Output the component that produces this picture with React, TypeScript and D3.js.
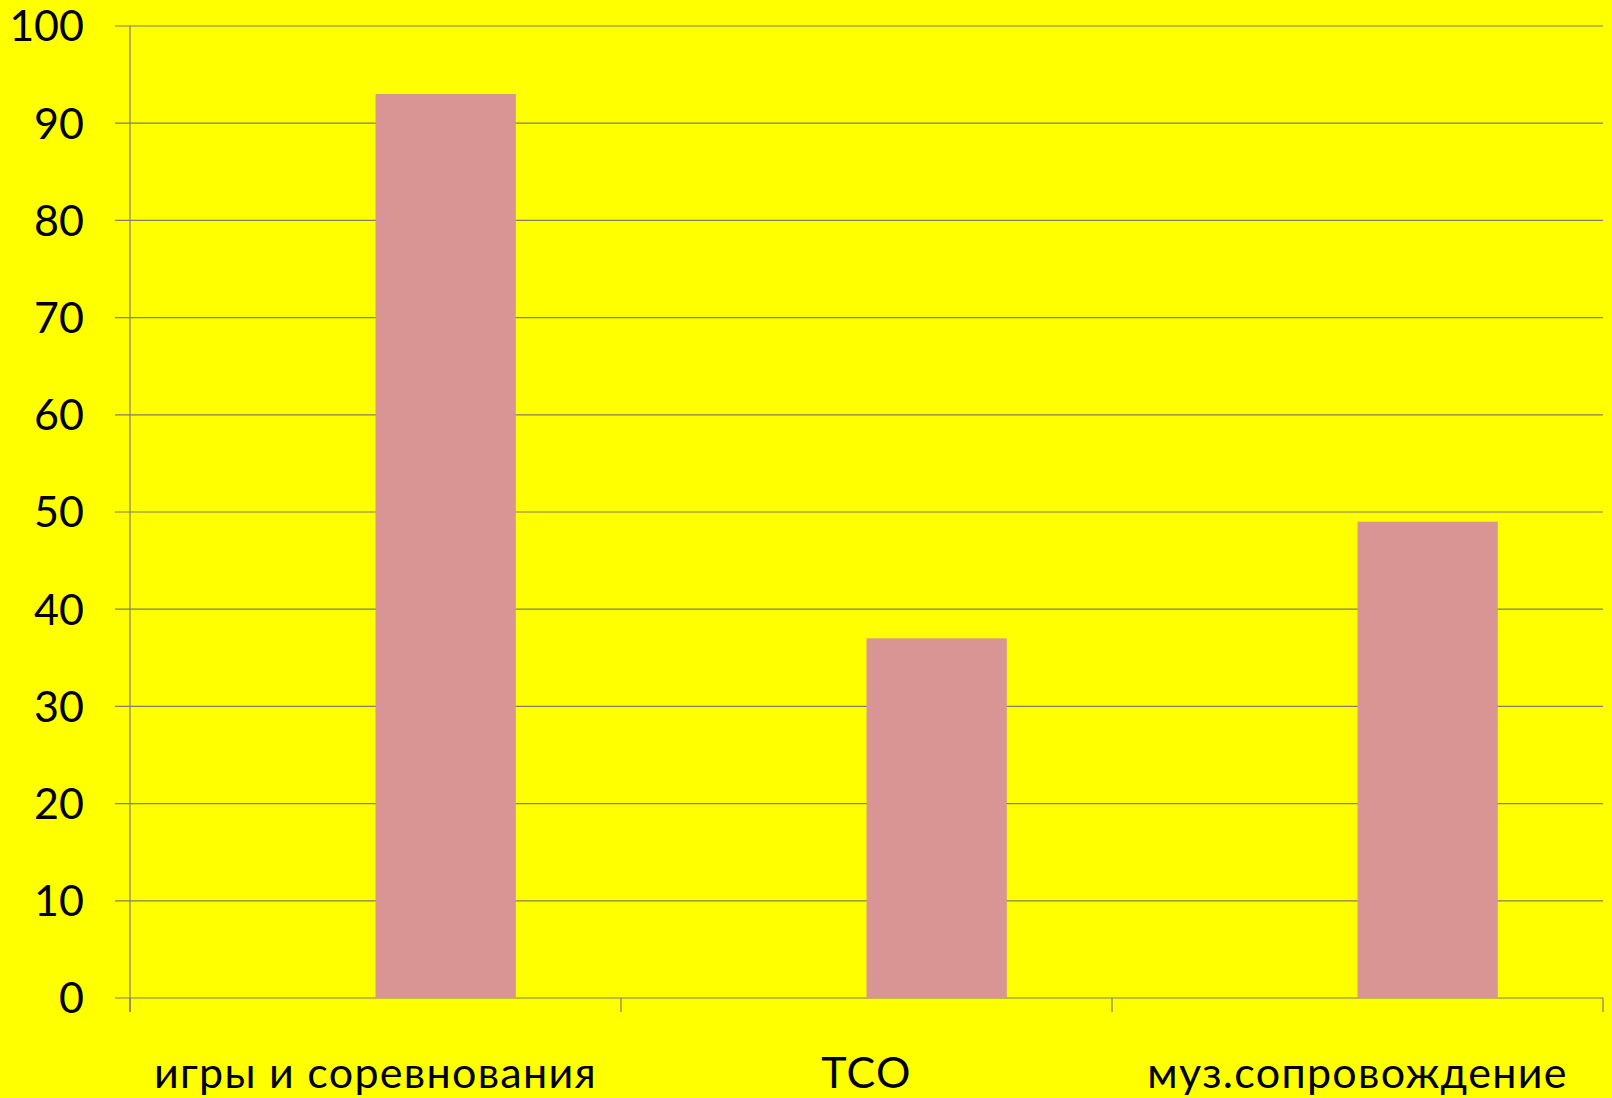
import React from "react";
import * as d3 from "d3";

const categories = ["игры и соревнования", "ТСО", "муз.сопровождение"];
const seriesNames = ["Ряд 1", "Ряд 2"];
const series1: (number | null)[] = [null, null, null];
const series2: (number | null)[] = [93, 37, 49];
const yTicks = [0, 10, 20, 30, 40, 50, 60, 70, 80, 90, 100];

const W = 1612;
const H = 1098;
const M = { left: 130, right: 1603, top: 26, bottom: 998 };
const FONT = "Lato, 'Open Sans', sans-serif";
const GRID = "#7f7f6a";

export default function App() {
  const x0 = d3.scaleBand<string>().domain(categories).range([M.left, M.right]).padding(0);
  const x1 = d3
    .scaleBand<string>()
    .domain(seriesNames)
    .range([0, x0.bandwidth()])
    .paddingInner(0)
    .paddingOuter(0.75);
  const y = d3.scaleLinear().domain([0, 100]).range([M.bottom, M.top]);

  const allSeries = [series1, series2];
  const catTicks = [...categories.map((c) => x0(c)!), M.right];

  return (
    <svg
      width={W}
      height={H}
      style={{ position: "absolute", left: 0, top: 0, background: "#FFFF00" }}
    >
      <rect x={0} y={0} width={W} height={H} fill="#FFFF00" />
      {yTicks.map((t) => (
        <g key={t}>
          <line x1={M.left - 15} x2={M.right} y1={y(t)} y2={y(t)} stroke={GRID} strokeWidth={1.2} />
          <text
            x={84}
            y={y(t)}
            dy="0.36em"
            textAnchor="end"
            fontFamily={FONT}
            fontSize={43}
            fill="#000"
          >
            {t}
          </text>
        </g>
      ))}
      {allSeries.map((s, si) =>
        s.map((v, ci) =>
          v == null ? null : (
            <rect
              key={`${si}-${ci}`}
              x={x0(categories[ci])! + x1(seriesNames[si])!}
              width={x1.bandwidth()}
              y={y(v)}
              height={y(0) - y(v)}
              fill="#D99594"
            />
          )
        )
      )}
      <line x1={M.left} x2={M.left} y1={M.top} y2={M.bottom + 14} stroke={GRID} strokeWidth={1.2} />
      {catTicks.map((cx, i) => (
        <line key={i} x1={cx} x2={cx} y1={M.bottom} y2={M.bottom + 14} stroke={GRID} strokeWidth={1.2} />
      ))}
      {categories.map((c) => (
        <text
          key={c}
          x={x0(c)! + x0.bandwidth() / 2}
          y={1088}
          textAnchor="middle"
          fontFamily={FONT}
          fontSize={43}
          letterSpacing={1.3}
          fill="#000"
        >
          {c}
        </text>
      ))}
    </svg>
  );
}
